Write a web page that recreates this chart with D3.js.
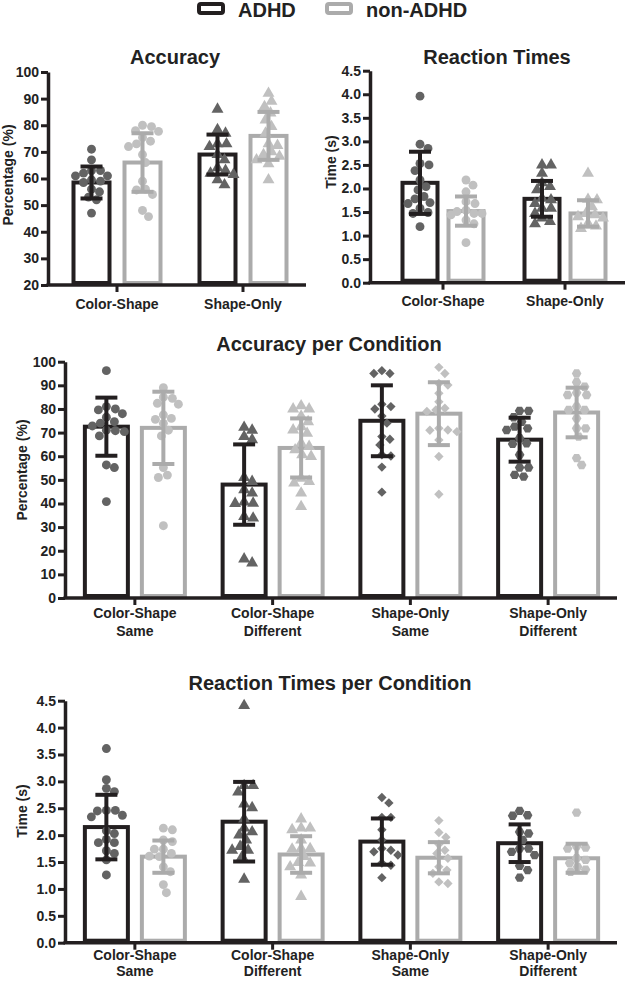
<!DOCTYPE html>
<html>
<head>
<meta charset="utf-8">
<title>ADHD vs non-ADHD accuracy and reaction times</title>
<script src="https://d3js.org/d3.v7.min.js"></script>
<style>
  body { margin: 0; background: #fff; }
  svg text { font-family: "Liberation Sans", Arial, Helvetica, sans-serif; font-weight: bold; fill: #222; }
</style>
</head>
<body>
<div id="chart"></div>
<script>
// ---- data ----
var groups = ["ADHD", "non-ADHD"];

// Accuracy (two tasks)
var accCats = [["Color-Shape"], ["Shape-Only"]];
var accTicks = [20, 30, 40, 50, 60, 70, 80, 90, 100];
var accAdhdMean = [58.5, 69.0];
var accAdhdSd = [6.0, 7.5];
var accNonMean = [66.0, 76.0];
var accNonSd = [11.0, 9.0];
var accAdhdPts = [
  [71, 67, 63, 63, 62, 61, 61, 59.5, 59, 58.5, 56, 55, 53, 52, 47],
  [86, 78.3, 77, 73, 73, 72, 69, 67, 64, 63, 62, 61.5, 59.5, 57.6]
];
var accNonPts = [
  [80, 79.5, 78, 77.7, 75.4, 74, 73, 72, 69, 66, 59, 56, 55.7, 54, 48, 45.7],
  [92, 89, 87, 84.6, 82, 79.5, 77, 73, 72.4, 70, 69, 68.3, 67, 65.5, 59.5]
];

// Reaction times (two tasks)
var rtCats = [["Color-Shape"], ["Shape-Only"]];
var rtTicks = [0, 0.5, 1, 1.5, 2, 2.5, 3, 3.5, 4, 4.5];
var rtAdhdMean = [2.12, 1.78];
var rtAdhdSd = [0.66, 0.38];
var rtNonMean = [1.52, 1.47];
var rtNonSd = [0.31, 0.28];
var rtAdhdPts = [
  [3.96, 2.94, 2.85, 2.53, 2.5, 2.38, 2.18, 2.04, 1.97, 1.83, 1.78, 1.7, 1.68, 1.58, 1.49, 1.47, 1.19],
  [2.5, 2.5, 2.32, 2.12, 2.04, 1.97, 1.79, 1.76, 1.68, 1.58, 1.58, 1.47, 1.37, 1.3, 1.25]
];
var rtNonPts = [
  [2.18, 2.07, 1.93, 1.72, 1.68, 1.54, 1.51, 1.47, 1.47, 1.44, 1.33, 1.25, 0.85],
  [2.32, 1.77, 1.76, 1.61, 1.47, 1.44, 1.4, 1.37, 1.26, 1.2, 1.15]
];

// Per condition
var condCats = [["Color-Shape", "Same"], ["Color-Shape", "Different"], ["Shape-Only", "Same"], ["Shape-Only", "Different"]];
var pctTicks = [0, 10, 20, 30, 40, 50, 60, 70, 80, 90, 100];

var accCondAdhdMean = [72.5, 48.0, 75.0, 67.0];
var accCondAdhdSd = [12.3, 17.0, 15.0, 9.3];
var accCondNonMean = [72.0, 63.5, 78.0, 78.5];
var accCondNonSd = [15.3, 12.5, 13.3, 10.5];
var accCondAdhdPts = [
  [96.2, 81, 80, 79.6, 78, 76.5, 74.6, 74, 72.8, 71, 70.8, 70.4, 68.6, 56.3, 55.2, 40.8],
  [72.2, 71, 68.3, 67, 51, 49.3, 45.8, 44.4, 40.6, 40.1, 40, 34.5, 33.8, 16.5, 14.8],
  [96.2, 95, 95, 82, 81, 80, 77, 74, 68.3, 67.2, 64.8, 60.6, 60.1, 55.4, 44.8],
  [79.2, 79.2, 76.5, 74.6, 72.5, 71.8, 71.1, 67.6, 65.5, 65.2, 60.6, 55.2, 55.2, 52.1, 51.4]
];
var accCondNonPts = [
  [89, 85, 84.5, 82.4, 82, 77.5, 76, 75.6, 73.9, 71, 68.6, 55.2, 52, 51, 30.6],
  [81.3, 80, 80, 77, 74.6, 72.5, 71.1, 69.7, 65.5, 64.1, 62.7, 60.6, 59.9, 50.7, 49.3, 48.6, 44.4, 38.7],
  [97.6, 95, 90.8, 90.1, 86.6, 83, 80.3, 79.6, 78.9, 71.8, 71.1, 71, 70.4, 66.9, 59.9, 43.9],
  [95, 91.3, 89.4, 86.9, 85.9, 85.9, 81, 79.6, 79.6, 76, 71.8, 71.8, 68.3, 59.2, 56.3]
];

var rtCondAdhdMean = [2.15, 2.25, 1.88, 1.85];
var rtCondAdhdSd = [0.6, 0.74, 0.43, 0.35];
var rtCondNonMean = [1.6, 1.64, 1.58, 1.57];
var rtCondNonSd = [0.3, 0.34, 0.29, 0.27];
var rtCondAdhdPts = [
  [3.61, 3.03, 2.87, 2.81, 2.46, 2.46, 2.45, 2.37, 2.34, 2.08, 2.03, 1.92, 1.86, 1.86, 1.71, 1.66, 1.54, 1.26],
  [4.41, 2.92, 2.92, 2.8, 2.58, 2.51, 2.3, 2.13, 2.06, 2.0, 1.91, 1.79, 1.72, 1.72, 1.6, 1.18],
  [2.7, 2.6, 2.33, 2.33, 2.1, 1.91, 1.75, 1.72, 1.69, 1.63, 1.48, 1.44, 1.21],
  [2.45, 2.37, 2.36, 2.06, 2.03, 1.91, 1.75, 1.75, 1.69, 1.63, 1.43, 1.35, 1.21]
];
var rtCondNonPts = [
  [2.13, 2.1, 1.91, 1.88, 1.74, 1.74, 1.66, 1.61, 1.6, 1.41, 1.32, 1.08, 0.93],
  [2.3, 2.13, 2.13, 2.1, 1.91, 1.75, 1.75, 1.74, 1.6, 1.49, 1.48, 1.41, 1.26, 0.86],
  [2.27, 2.05, 1.96, 1.83, 1.72, 1.66, 1.57, 1.41, 1.35, 1.29, 1.13, 1.1],
  [2.42, 1.79, 1.77, 1.75, 1.57, 1.54, 1.48, 1.41, 1.36, 1.32]
];

// ---- styles ----
var dark = "#231f20", light = "#ababab";
var darkPt = "#636363", lightPt = "#c0c0c0";

// hexagon marker
var symbolHexagon = {
  draw: function(ctx, size) {
    var r = Math.sqrt(size * 2 / (3 * Math.sqrt(3)));
    for (var i = 0; i < 6; i++) {
      var a = Math.PI / 3 * i;
      if (i) ctx.lineTo(r * Math.cos(a), r * Math.sin(a));
      else ctx.moveTo(r * Math.cos(a), r * Math.sin(a));
    }
    ctx.closePath();
  }
};
var markers = {
  circle: { type: d3.symbolCircle, size: 62, rot: 0 },
  triangle: { type: d3.symbolTriangle, size: 62, rot: 0 },
  diamond: { type: d3.symbolSquare, size: 44, rot: 45 },
  hexagon: { type: symbolHexagon, size: 60, rot: 0 }
};

var svg = d3.select("#chart").append("svg")
  .attr("width", 625).attr("height", 981);

// legend
var legend = svg.append("g");
var legendX = d3.scaleOrdinal().domain(groups).range([199, 327]);
legend.selectAll("rect").data(groups).enter().append("rect")
  .attr("x", function(d) { return legendX(d); })
  .attr("y", 4).attr("width", 24).attr("height", 9).attr("rx", 2)
  .attr("fill", "#fff").attr("stroke-width", 4)
  .attr("stroke", function(d, i) { return i ? light : dark; });
legend.selectAll("text").data(groups).enter().append("text")
  .attr("x", function(d) { return legendX(d) + 39; })
  .attr("y", 17).style("font-size", "20px")
  .text(function(d) { return d; });

// place points in a simple non-overlapping swarm around the bar centre
function swarm(values, y, r, maxOff) {
  var pts = values.map(function(v) { return { v: v, y: y(v), dx: 0 }; })
    .sort(function(a, b) { return a.y - b.y; });
  var placed = [];
  pts.forEach(function(p) {
    var best = 0, bestCost = Infinity;
    for (var k = 0; k <= 2 * maxOff; k++) {
      var off = (k % 2 ? 1 : -1) * Math.ceil(k / 2);
      var cost = 0;
      placed.forEach(function(q) {
        var d = Math.hypot(q.dx - off, q.y - p.y);
        if (d < 2 * r) cost += 2 * r - d;
      });
      if (cost < bestCost - 1e-9) { bestCost = cost; best = off; }
      if (cost === 0) break;
    }
    p.dx = best;
    placed.push(p);
  });
  return pts;
}

function panel(cfg) {
  var g = svg.append("g");
  var x = d3.scaleBand().domain(cfg.cats.map(function(c) { return c.join(" "); }))
    .range(cfg.xr).paddingInner(0).paddingOuter(0);
  var y = d3.scaleLinear().domain(cfg.domain).range(cfg.yr);
  var cx = function(i) { return x(cfg.cats[i].join(" ")) + x.bandwidth() / 2; };
  var series = [
    { mean: cfg.adhdMean, sd: cfg.adhdSd, pts: cfg.adhdPts, col: dark, pcol: darkPt, off: -cfg.off },
    { mean: cfg.nonMean, sd: cfg.nonSd, pts: cfg.nonPts, col: light, pcol: lightPt, off: cfg.off }
  ];

  // bars
  series.forEach(function(s) {
    g.selectAll(null).data(s.mean).enter().append("rect")
      .attr("x", function(d, i) { return cx(i) + s.off - cfg.barW / 2; })
      .attr("y", function(d) { return y(d); })
      .attr("width", cfg.barW)
      .attr("height", function(d) { return y(cfg.domain[0]) - y(d) - 2; })
      .attr("fill", "#fff").attr("stroke", s.col).attr("stroke-width", 4);
  });

  // points
  series.forEach(function(s) {
    s.pts.forEach(function(vals, i) {
      var m = markers[cfg.shapes[i]];
      var sym = d3.symbol().type(m.type).size(m.size);
      g.selectAll(null).data(swarm(vals, y, 4.2, cfg.barW / 2 - 2)).enter().append("path")
        .attr("d", sym)
        .attr("fill", s.pcol)
        .attr("transform", function(d) {
          return "translate(" + (cx(i) + s.off + d.dx) + "," + d.y + ") rotate(" + m.rot + ")";
        });
    });
  });

  // error bars
  series.forEach(function(s) {
    var eb = g.selectAll(null).data(s.mean).enter().append("g")
      .attr("stroke", s.col).attr("stroke-width", 4);
    eb.append("line")
      .attr("x1", function(d, i) { return cx(i) + s.off; })
      .attr("x2", function(d, i) { return cx(i) + s.off; })
      .attr("y1", function(d, i) { return y(d - s.sd[i]); })
      .attr("y2", function(d, i) { return y(d + s.sd[i]); });
    [-1, 1].forEach(function(sign) {
      eb.append("line")
        .attr("x1", function(d, i) { return cx(i) + s.off - cfg.capW / 2; })
        .attr("x2", function(d, i) { return cx(i) + s.off + cfg.capW / 2; })
        .attr("y1", function(d, i) { return y(d + sign * s.sd[i]); })
        .attr("y2", function(d, i) { return y(d + sign * s.sd[i]); });
    });
  });

  // y axis
  var ya = g.append("g").attr("transform", "translate(" + cfg.x0 + ",0)")
    .call(d3.axisLeft(y).tickValues(cfg.ticks).tickFormat(d3.format(cfg.fmt))
      .tickSize(7).tickSizeOuter(0).tickPadding(2));
  ya.select(".domain").attr("stroke", dark).attr("stroke-width", 3.5);
  ya.selectAll(".tick line").attr("stroke", dark).attr("stroke-width", 3);
  ya.selectAll(".tick text").style("font-size", "14px").attr("fill", dark);

  // x axis
  var base = y(cfg.domain[0]);
  g.append("line").attr("x1", cfg.x0 - 1.5).attr("x2", cfg.xr[1])
    .attr("y1", base).attr("y2", base)
    .attr("stroke", dark).attr("stroke-width", 3.5);
  var xa = g.append("g").attr("transform", "translate(0," + base + ")")
    .call(d3.axisBottom(x).tickSize(7).tickSizeOuter(0).tickFormat(""));
  xa.select(".domain").remove();
  xa.selectAll(".tick line").attr("stroke", dark).attr("stroke-width", 3);

  var lab = g.selectAll(null).data(cfg.cats).enter().append("text")
    .attr("text-anchor", "middle").style("font-size", "14px");
  lab.each(function(c, i) {
    d3.select(this).selectAll("tspan").data(c).enter().append("tspan")
      .attr("x", cx(i))
      .attr("y", function(d, j) { return cfg.catY[j]; })
      .text(function(d) { return d; });
  });

  // titles
  g.append("text").attr("x", cfg.tx).attr("y", cfg.ty)
    .attr("text-anchor", "middle").style("font-size", "20px").text(cfg.title);
  g.append("text")
    .attr("transform", "translate(" + cfg.lx + "," + cfg.ly + ") rotate(-90)")
    .attr("text-anchor", "middle").style("font-size", "14px").text(cfg.ylabel);
}

panel({
  cats: accCats, ticks: accTicks, fmt: "d", domain: [20, 100],
  adhdMean: accAdhdMean, adhdSd: accAdhdSd, adhdPts: accAdhdPts,
  nonMean: accNonMean, nonSd: accNonSd, nonPts: accNonPts,
  shapes: ["circle", "triangle"],
  x0: 48, xr: [54, 306], yr: [285, 72], off: 25.5, barW: 36, capW: 22,
  title: "Accuracy", tx: 175, ty: 64,
  ylabel: "Percentage (%)", lx: 13, ly: 175, catY: [309]
});

panel({
  cats: rtCats, ticks: rtTicks, fmt: ".1f", domain: [0, 4.5],
  adhdMean: rtAdhdMean, adhdSd: rtAdhdSd, adhdPts: rtAdhdPts,
  nonMean: rtNonMean, nonSd: rtNonSd, nonPts: rtNonPts,
  shapes: ["circle", "triangle"],
  x0: 370, xr: [382, 626], yr: [282.7, 70.7], off: 23, barW: 35, capW: 22,
  title: "Reaction Times", tx: 497, ty: 64,
  ylabel: "Time (s)", lx: 336, ly: 162, catY: [306]
});

panel({
  cats: condCats, ticks: pctTicks, fmt: "d", domain: [0, 100],
  adhdMean: accCondAdhdMean, adhdSd: accCondAdhdSd, adhdPts: accCondAdhdPts,
  nonMean: accCondNonMean, nonSd: accCondNonSd, nonPts: accCondNonPts,
  shapes: ["circle", "triangle", "diamond", "hexagon"],
  x0: 65, xr: [66, 617], yr: [598, 361.7], off: 28.5, barW: 43, capW: 22,
  title: "Accuracy per Condition", tx: 329, ty: 351,
  ylabel: "Percentage (%)", lx: 27, ly: 470, catY: [618, 636]
});

panel({
  cats: condCats, ticks: rtTicks, fmt: ".1f", domain: [0, 4.5],
  adhdMean: rtCondAdhdMean, adhdSd: rtCondAdhdSd, adhdPts: rtCondAdhdPts,
  nonMean: rtCondNonMean, nonSd: rtCondNonSd, nonPts: rtCondNonPts,
  shapes: ["circle", "triangle", "diamond", "hexagon"],
  x0: 65, xr: [66, 617], yr: [942.7, 700.7], off: 28.5, barW: 43, capW: 22,
  title: "Reaction Times per Condition", tx: 330, ty: 690,
  ylabel: "Time (s)", lx: 27, ly: 811, catY: [960, 976]
});
</script>
</body>
</html>
